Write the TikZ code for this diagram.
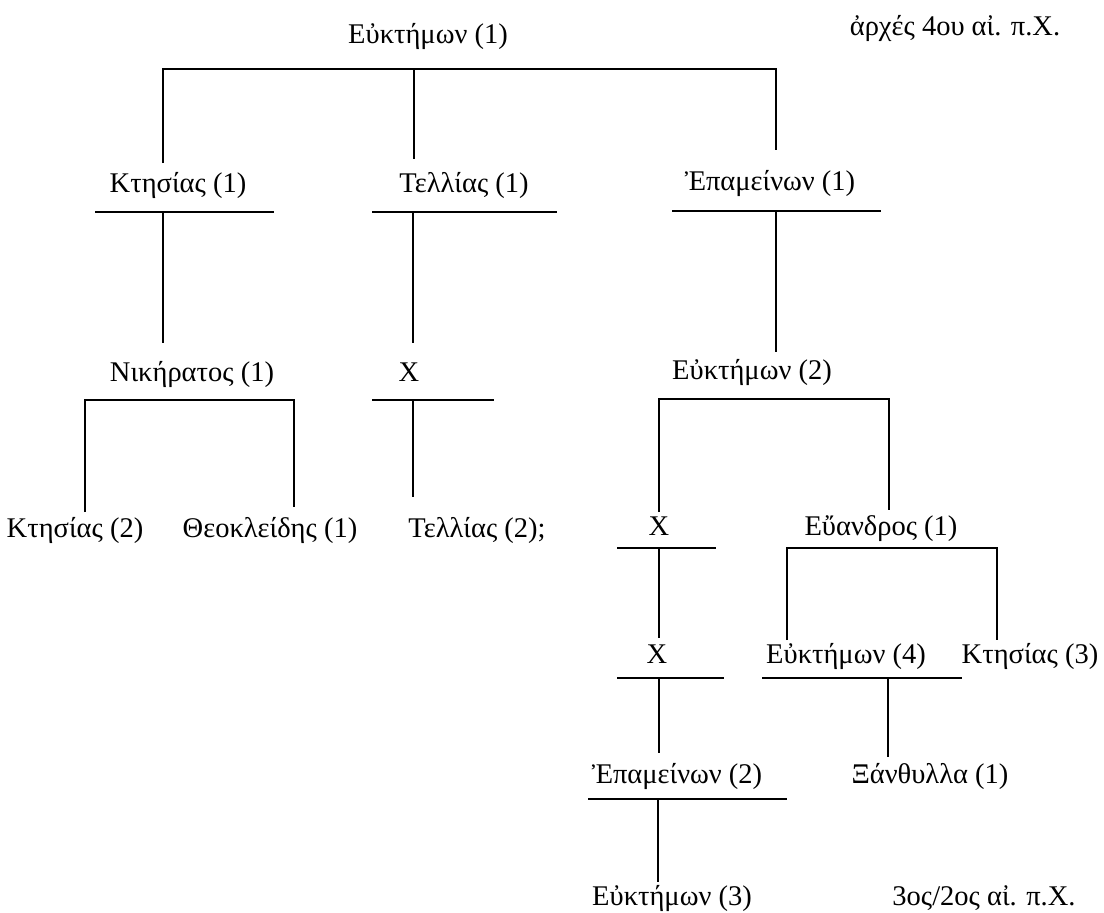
\documentclass[tikz,border=0pt]{standalone}
\usepackage{fontspec}
\setmainfont{Liberation Serif}
\usetikzlibrary{positioning}

\begin{document}
\begin{tikzpicture}[x=1pt,y=-1pt,
  person/.style={anchor=base,inner sep=0pt,font=\fontsize{28.5}{32}\selectfont},
  kin/.style={line width=2pt}]
\useasboundingbox (0,0) rectangle (1104,913);

\node[person] (eu1) at (428,43) {Εὐκτήμων (1)};
\node[person] (date1) at (955,35) {ἀρχές 4ου αἰ. π.Χ.};
\node[person] (k1) at (178,192) {Κτησίας (1)};
\node[person] (t1) at (464,192) {Τελλίας (1)};
\node[person] (e1) at (770,190) {Ἐπαμείνων (1)};
\node[person] (n1) at (192,381) {Νικήρατος (1)};
\node[person] (x1) at (409,381) {X};
\node[person] (eu2) at (752,379) {Εὐκτήμων (2)};
\node[person] (k2) at (75,537) {Κτησίας (2)};
\node[person] (th1) at (270,537) {Θεοκλείδης (1)};
\node[person] (t2) at (477,537) {Τελλίας (2);};
\node[person] (x2) at (659,535) {X};
\node[person] (ev1) at (881,535) {Εὔανδρος (1)};
\node[person] (x3) at (657,663) {X};
\node[person] (eu4) at (846,663) {Εὐκτήμων (4)};
\node[person] (k3) at (1030,663) {Κτησίας (3)};
\node[person] (e2) at (677,783) {Ἐπαμείνων (2)};
\node[person] (xa1) at (930,783) {Ξάνθυλλα (1)};
\node[person] (eu3) at (672,905) {Εὐκτήμων (3)};
\node[person] (date2) at (984,905) {3ος/2ος αἰ. π.Χ.};

\coordinate (k1-in) at (163,163);
\coordinate (t1-in) at (414,159);
\coordinate (e1-in) at (776,150);
\coordinate (n1-in) at (163,343);
\coordinate (x1-in) at (413,343);
\coordinate (eu2-in) at (776,352);
\coordinate (k2-in) at (85,512);
\coordinate (th1-in) at (294,507);
\coordinate (t2-in) at (413,497);
\coordinate (x2-in) at (659,512);
\coordinate (ev1-in) at (889,510);
\coordinate (x3-in) at (659,638);
\coordinate (eu4-in) at (787,640);
\coordinate (k3-in) at (997,640);
\coordinate (e2-in) at (659,753);
\coordinate (xa1-in) at (888,757);
\coordinate (eu3-in) at (658,882);

\coordinate (eu1-j) at (414,69);
\coordinate (n1-j) at (190,400);
\coordinate (eu2-j) at (770,399);
\coordinate (ev1-j) at (890,548);

\coordinate (k1-bl) at (95,212);   \coordinate (k1-br) at (274,212);
\coordinate (t1-bl) at (372,212);  \coordinate (t1-br) at (557,212);
\coordinate (e1-bl) at (672,211);  \coordinate (e1-br) at (881,211);
\coordinate (x1-bl) at (372,400);  \coordinate (x1-br) at (494,400);
\coordinate (x2-bl) at (617,548);  \coordinate (x2-br) at (716,548);
\coordinate (x3-bl) at (617,678);  \coordinate (x3-br) at (724,678);
\coordinate (eu4-bl) at (762,678); \coordinate (eu4-br) at (962,678);
\coordinate (e2-bl) at (588,799);  \coordinate (e2-br) at (787,799);

\draw[kin] (k1-in) |- (eu1-j) -| (e1-in);
\draw[kin] (eu1-j) -- (t1-in);

\draw[kin] (k1-bl) -- (k1-br);
\draw[kin] (k1-bl -| n1-in) -- (n1-in);
\draw[kin] (t1-bl) -- (t1-br);
\draw[kin] (t1-bl -| x1-in) -- (x1-in);
\draw[kin] (e1-bl) -- (e1-br);
\draw[kin] (e1-bl -| eu2-in) -- (eu2-in);

\draw[kin] (k2-in) |- (n1-j) -| (th1-in);
\draw[kin] (x1-bl) -- (x1-br);
\draw[kin] (x1-bl -| t2-in) -- (t2-in);
\draw[kin] (x2-in) |- (eu2-j) -| (ev1-in);

\draw[kin] (x2-bl) -- (x2-br);
\draw[kin] (x2-bl -| x3-in) -- (x3-in);
\draw[kin] (eu4-in) |- (ev1-j) -| (k3-in);

\draw[kin] (x3-bl) -- (x3-br);
\draw[kin] (x3-bl -| e2-in) -- (e2-in);
\draw[kin] (eu4-bl) -- (eu4-br);
\draw[kin] (eu4-bl -| xa1-in) -- (xa1-in);

\draw[kin] (e2-bl) -- (e2-br);
\draw[kin] (e2-bl -| eu3-in) -- (eu3-in);
\end{tikzpicture}
\end{document}
